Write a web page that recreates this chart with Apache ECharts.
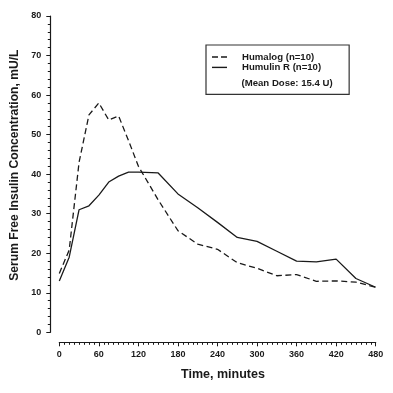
<!DOCTYPE html>
<html><head><meta charset="utf-8">
<script src="https://cdn.jsdelivr.net/npm/echarts@6/dist/echarts.min.js"></script>
<style>html,body{margin:0;padding:0;background:#fff}#c{width:393px;height:393px}</style>
</head><body><div id="c"></div>
<script>
var times   = [0, 15, 30, 45, 60, 75, 90, 105, 120, 150, 180, 210, 240, 270, 300, 330, 360, 390, 420, 450, 480];
var humalog = [14.9, 20.8, 43, 55, 58, 53.7, 54.7, 48.5, 42, 33.5, 25.7, 22.3, 21, 17.6, 16.2, 14.3, 14.6, 12.9, 13, 12.7, 11.4];
var humulin = [13, 19, 31, 32, 34.7, 38, 39.5, 40.5, 40.5, 40.3, 35, 31.5, 27.8, 24, 23, 20.5, 18, 17.8, 18.5, 13.6, 11.4];
var xTicks = [0, 60, 120, 180, 240, 300, 360, 420, 480];
var yTicks = [0, 10, 20, 30, 40, 50, 60, 70, 80];
var seriesNames = ['Humalog (n=10)', 'Humulin R (n=10)'];
var noteText = '(Mean Dose: 15.4 U)';

function pairs(vals){ return times.map(function(t,i){ return [t, vals[i]]; }); }
var FF = '"Liberation Sans", Arial, sans-serif';
var ink = '#1a1a1a';
var chart = echarts.init(document.getElementById('c'), null, {renderer:'canvas'});
chart.setOption({
  animation: false,
  backgroundColor: '#fff',
  grid: { left: 59.3, right: 17.3, top: 16, bottom: 60.7 },
  xAxis: {
    type: 'value', min: xTicks[0], max: xTicks[xTicks.length-1], interval: 60,
    offset: 10,
    name: 'Time, minutes', nameLocation: 'middle', nameGap: 26,
    nameTextStyle: { fontFamily: FF, fontWeight: 'bold', fontSize: 12.5, color: ink, padding: [0,0,0,11] },
    axisLine: { onZero: false, lineStyle: { color: ink, width: 1.2 } },
    axisTick: { length: 4, lineStyle: { color: ink } },
    minorTick: { show: true, splitNumber: 8, length: 2.5, lineStyle: { color: ink } },
    splitLine: { show: false },
    axisLabel: { margin: 8, fontFamily: FF, fontWeight: 'bold', fontSize: 9, color: ink }
  },
  yAxis: {
    type: 'value', min: yTicks[0], max: yTicks[yTicks.length-1], interval: 10,
    offset: 9,
    name: 'Serum Free Insulin Concentration, mU/L', nameLocation: 'middle', nameGap: 27,
    nameTextStyle: { fontFamily: FF, fontWeight: 'bold', fontSize: 12.1, color: ink, padding: [0,0,0,18] },
    axisLine: { show: true, onZero: false, lineStyle: { color: ink, width: 1.2 } },
    axisTick: { show: true, length: 4, lineStyle: { color: ink } },
    minorTick: { show: true, splitNumber: 5, length: 2.5, lineStyle: { color: ink } },
    splitLine: { show: false },
    axisLabel: { margin: 9, fontFamily: FF, fontWeight: 'bold', fontSize: 9, color: ink }
  },
  legend: {
    left: 206, top: 45, orient: 'vertical',
    data: [
      { name: seriesNames[0], icon: 'path://M0,0h6v1.4h-6zM9,0h6v1.4h-6z' },
      { name: seriesNames[1], icon: 'path://M0,0h15v1.4h-15z' }
    ],
    itemWidth: 15, itemHeight: 13, itemGap: 0.4,
    padding: [7, 28, 22, 6],
    borderColor: '#333', borderWidth: 1.2,
    selectedMode: false,
    itemStyle: { color: ink, borderWidth: 0 },
    textStyle: { fontFamily: FF, fontWeight: 'bold', fontSize: 9.6, color: ink, padding: [0,0,0,10] }
  },
  graphic: [{
    type: 'text', left: 241.5, top: 78.5,
    style: { text: noteText, font: 'bold 9.6px ' + FF, fill: ink }
  }],
  series: [{
    name: seriesNames[0], type: 'line', data: pairs(humalog), symbol: 'none',
    lineStyle: { color: ink, width: 1.3, type: [6, 3.5] }, itemStyle: { color: ink }
  }, {
    name: seriesNames[1], type: 'line', data: pairs(humulin), symbol: 'none',
    lineStyle: { color: ink, width: 1.3 }, itemStyle: { color: ink }
  }]
});
</script></body></html>
